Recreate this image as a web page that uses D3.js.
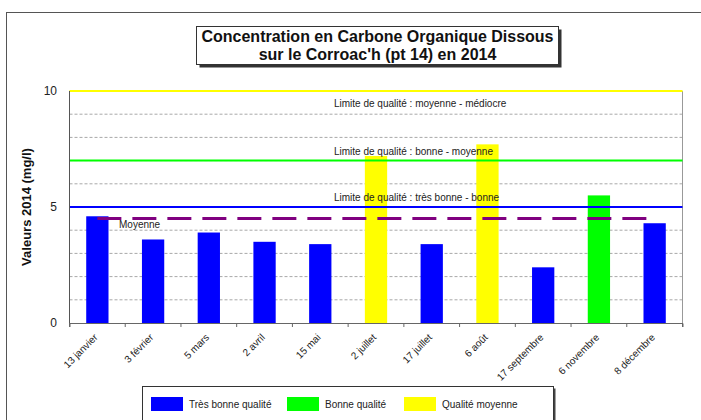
<!DOCTYPE html>
<html>
<head>
<meta charset="utf-8">
<script src="https://cdn.jsdelivr.net/npm/d3@7"></script>
<style>
  html, body { margin: 0; padding: 0; background: #fff; }
  svg { display: block; font-family: "Liberation Sans", Arial, sans-serif; }
</style>
</head>
<body>
<svg id="chart" width="701" height="420"></svg>
<script>
// Prélèvements 2014 — carbone organique dissous (mg/l)
const dates = ["13 janvier", "3 février", "5 mars", "2 avril", "15 mai", "2 juillet",
               "17 juillet", "6 août", "17 septembre", "6 novembre", "8 décembre"];
const valeurs = [4.6, 3.6, 3.9, 3.5, 3.4, 7.2, 3.4, 7.7, 2.4, 5.5, 4.3];

// Seuils de qualité (mg/l)
const seuils = [5, 7, 10];
const seuilLabels = ["Limite de qualité : très bonne - bonne",
                     "Limite de qualité : bonne - moyenne",
                     "Limite de qualité : moyenne - médiocre"];
const seuilCouleurs = ["#0000ff", "#00ff00", "#ffff00"];

// Classes de qualité
const classes = ["Très bonne qualité", "Bonne qualité", "Qualité moyenne"];
const classeCouleurs = ["#0000ff", "#00ff00", "#ffff00"];

const yTicks = [0, 5, 10];
const titre = ["Concentration en Carbone Organique Dissous", "sur le Corroac'h (pt 14) en 2014"];
const yTitre = "Valeurs 2014 (mg/l)";

const svg = d3.select("#chart");
const plot = { left: 69.5, right: 682.5, top: 91, bottom: 323 };

const x = d3.scaleBand().domain(dates).range([plot.left, plot.right]).paddingInner(0.6).paddingOuter(0.3);
const xb = d3.scaleBand().domain(dates).range([plot.left, plot.right]);
const y = d3.scaleLinear().domain([0, 10]).range([plot.bottom, plot.top]);

const classeIndex = v => (v <= seuils[0] ? 0 : v <= seuils[1] ? 1 : 2);

// Cadre général
svg.append("rect").attr("x", 6.5).attr("y", 12.5).attr("width", 800).attr("height", 500)
  .attr("fill", "none").attr("stroke", "#555").attr("stroke-width", 1);

// Titre encadré avec ombre
const tb = { x: 196.5, y: 26.5, w: 362, h: 38 };
svg.append("rect").attr("x", tb.x + 3).attr("y", tb.y + 3).attr("width", tb.w).attr("height", tb.h).attr("fill", "#333");
svg.append("rect").attr("x", tb.x).attr("y", tb.y).attr("width", tb.w).attr("height", tb.h)
  .attr("fill", "#fff").attr("stroke", "#333");
svg.selectAll("text.titre").data(titre).enter().append("text")
  .attr("class", "titre")
  .attr("x", tb.x + tb.w / 2).attr("y", (d, i) => 42 + i * 18)
  .attr("text-anchor", "middle").attr("font-size", 16).attr("font-weight", "bold").attr("fill", "#111")
  .text(d => d);

// Quadrillage secondaire
svg.append("g").selectAll("line").data(d3.range(1, 10)).enter().append("line")
  .attr("x1", plot.left).attr("x2", plot.right)
  .attr("y1", d => y(d)).attr("y2", d => y(d))
  .attr("stroke", "#a8a8a8").attr("stroke-dasharray", "3,2").attr("stroke-width", 1);

// Bordure de la zone de tracé
svg.append("line").attr("x1", plot.right).attr("x2", plot.right).attr("y1", plot.top).attr("y2", plot.bottom)
  .attr("stroke", "#999");

// Barres
svg.append("g").selectAll("rect").data(valeurs).enter().append("rect")
  .attr("x", (d, i) => x(dates[i]))
  .attr("width", x.bandwidth())
  .attr("y", d => y(d))
  .attr("height", d => y(0) - y(d))
  .attr("fill", d => classeCouleurs[classeIndex(d)]);

// Lignes de seuils
svg.append("g").selectAll("line").data(seuils).enter().append("line")
  .attr("x1", plot.left).attr("x2", plot.right)
  .attr("y1", d => y(d)).attr("y2", d => y(d))
  .attr("stroke", (d, i) => seuilCouleurs[i]).attr("stroke-width", 2);

// Libellés des seuils
const seuilDy = [-6, -6, 16];
svg.append("g").selectAll("text").data(seuils).enter().append("text")
  .attr("x", 334).attr("y", (d, i) => y(d) + seuilDy[i])
  .attr("font-size", 10).attr("fill", "#222")
  .text((d, i) => seuilLabels[i]);

// Moyenne annuelle
const moyenne = d3.mean(valeurs);
svg.append("line")
  .attr("x1", xb(dates[0]) + xb.bandwidth() / 2)
  .attr("x2", xb(dates[dates.length - 1]) + xb.bandwidth() / 2)
  .attr("y1", y(moyenne)).attr("y2", y(moyenne))
  .attr("stroke", "#800080").attr("stroke-width", 3).attr("stroke-dasharray", "24,11");
svg.append("text").attr("x", 119).attr("y", y(moyenne) + 9.5)
  .attr("font-size", 10).attr("fill", "#222").text("Moyenne");

// Axe Y
svg.append("line").attr("x1", plot.left).attr("x2", plot.left).attr("y1", plot.top).attr("y2", plot.bottom)
  .attr("stroke", "#555");
svg.append("g").selectAll("text").data(yTicks).enter().append("text")
  .attr("x", 57).attr("y", d => y(d)).attr("dy", "0.35em")
  .attr("text-anchor", "end").attr("font-size", 12).attr("fill", "#222")
  .text(d => d);
svg.append("text")
  .attr("transform", `translate(31,${(plot.top + plot.bottom) / 2}) rotate(-90)`)
  .attr("text-anchor", "middle").attr("font-size", 13).attr("font-weight", "bold").attr("fill", "#111")
  .text(yTitre);

// Axe X
const xAxis = d3.axisBottom(xb).tickSize(4).tickFormat("");
const gx = svg.append("g").attr("transform", `translate(0,${plot.bottom})`).call(xAxis);
gx.select(".domain").attr("stroke", "#666");
gx.selectAll(".tick line").attr("transform", d => `translate(${-xb.bandwidth() / 2},0)`).attr("stroke", "#666");
gx.append("line").attr("x1", plot.right).attr("x2", plot.right).attr("y1", 0).attr("y2", 4).attr("stroke", "#666");
svg.append("g").selectAll("text").data(dates).enter().append("text")
  .attr("transform", d => `translate(${xb(d) + xb.bandwidth() / 2 + 1},338) rotate(-45)`)
  .attr("text-anchor", "end").attr("font-size", 10).attr("fill", "#222")
  .text(d => d);

// Légende
const lg = { x: 142.5, y: 386.5, w: 411, h: 40 };
svg.append("rect").attr("x", lg.x + 2).attr("y", lg.y + 2).attr("width", lg.w).attr("height", lg.h).attr("fill", "#444");
svg.append("rect").attr("x", lg.x).attr("y", lg.y).attr("width", lg.w).attr("height", lg.h)
  .attr("fill", "#fff").attr("stroke", "#333");
const legX = [151, 287, 404];
const items = svg.append("g").selectAll("g").data(classes).enter().append("g")
  .attr("transform", (d, i) => `translate(${legX[i]},397)`);
items.append("rect").attr("width", 32).attr("height", 14).attr("fill", (d, i) => classeCouleurs[i]);
items.append("text").attr("x", 38).attr("y", 7).attr("dy", "0.35em")
  .attr("font-size", 10).attr("fill", "#222").text(d => d);
</script>
</body>
</html>
